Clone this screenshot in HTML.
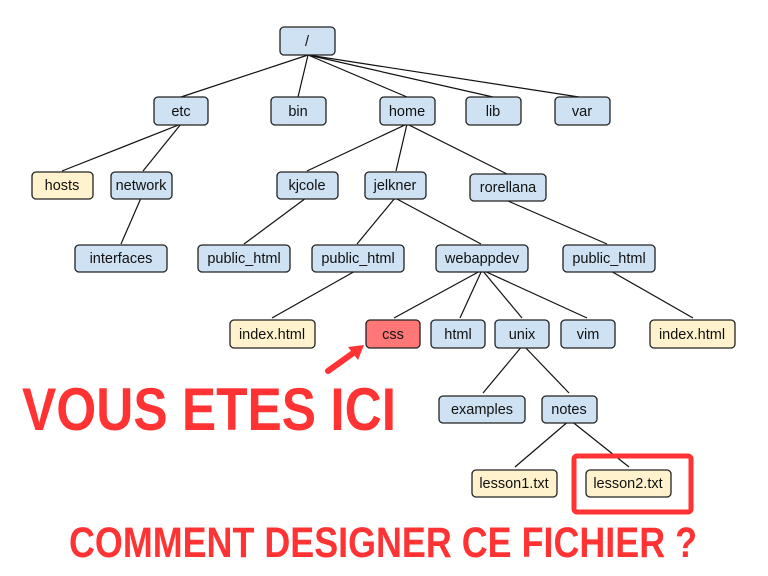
<!DOCTYPE html>
<html><head><meta charset="utf-8"><style>
html,body{margin:0;padding:0;background:#fff;width:768px;height:576px;overflow:hidden}
svg text{font-family:"Liberation Sans",Arial,sans-serif}
.n{stroke:#222;stroke-width:1.3}
.b{fill:#cfe2f3}.y{fill:#fff2cc}.r{fill:#f77}
.t{font-size:14.5px;fill:#111;text-anchor:middle}
.e{stroke:#111;stroke-width:1.2;fill:none}
</style></head><body>
<svg width="768" height="576" xmlns="http://www.w3.org/2000/svg">
<g transform="translate(-3,0)">
<g class="e">
<line x1="311" y1="55" x2="184" y2="97"/>
<line x1="311" y1="55" x2="301" y2="97"/>
<line x1="311" y1="55" x2="410" y2="97"/>
<line x1="311" y1="55" x2="496" y2="97"/>
<line x1="311" y1="55" x2="582" y2="97"/>
<line x1="184" y1="124" x2="65" y2="171"/>
<line x1="184" y1="124" x2="146" y2="171"/>
<line x1="144" y1="198" x2="124" y2="244"/>
<line x1="410" y1="124" x2="310" y2="171"/>
<line x1="410" y1="124" x2="399" y2="171"/>
<line x1="410" y1="124" x2="510" y2="174"/>
<line x1="309" y1="198" x2="247" y2="244"/>
<line x1="398" y1="198" x2="360" y2="244"/>
<line x1="398" y1="198" x2="484" y2="244"/>
<line x1="511" y1="201" x2="610" y2="244"/>
<line x1="360" y1="270" x2="275" y2="318"/>
<line x1="485" y1="270" x2="397" y2="318"/>
<line x1="485" y1="270" x2="463" y2="318"/>
<line x1="485" y1="270" x2="525" y2="318"/>
<line x1="485" y1="270" x2="590" y2="318"/>
<line x1="612" y1="270" x2="696" y2="318"/>
<line x1="526" y1="345" x2="486" y2="393"/>
<line x1="526" y1="345" x2="572" y2="393"/>
<line x1="573" y1="420" x2="518" y2="467"/>
<line x1="573" y1="420" x2="632" y2="467"/>
</g>
<g class="n">
<rect class="b" x="283" y="27" width="55" height="28" rx="4"/>
<rect class="b" x="157" y="97" width="54" height="28" rx="4"/>
<rect class="b" x="274" y="97" width="55" height="28" rx="4"/>
<rect class="b" x="383" y="97" width="55" height="28" rx="4"/>
<rect class="b" x="469" y="97" width="55" height="28" rx="4"/>
<rect class="b" x="558" y="97" width="55" height="28" rx="4"/>
<rect class="y" x="35" y="172" width="61" height="27" rx="4"/>
<rect class="b" x="114" y="172" width="61" height="27" rx="4"/>
<rect class="b" x="280" y="172" width="61" height="27" rx="4"/>
<rect class="b" x="368" y="172" width="61" height="27" rx="4"/>
<rect class="b" x="473" y="174" width="76" height="27" rx="4"/>
<rect class="b" x="78" y="245" width="92" height="27" rx="4"/>
<rect class="b" x="201" y="245" width="92" height="27" rx="4"/>
<rect class="b" x="315" y="245" width="92" height="27" rx="4"/>
<rect class="b" x="439" y="245" width="92" height="27" rx="4"/>
<rect class="b" x="566" y="245" width="92" height="27" rx="4"/>
<rect class="y" x="233" y="320" width="85" height="28" rx="4"/>
<rect class="r" x="369" y="320" width="54" height="28" rx="4"/>
<rect class="b" x="434" y="320" width="54" height="28" rx="4"/>
<rect class="b" x="498" y="320" width="54" height="28" rx="4"/>
<rect class="b" x="564" y="320" width="54" height="28" rx="4"/>
<rect class="y" x="653" y="320" width="85" height="28" rx="4"/>
<rect class="b" x="442" y="396" width="86" height="27" rx="4"/>
<rect class="b" x="545" y="396" width="55" height="27" rx="4"/>
<rect class="y" x="475" y="470" width="85" height="27" rx="4"/>
<rect class="y" x="589" y="470" width="85" height="27" rx="4"/>
</g>
<g class="t">
<text x="310" y="46">/</text>
<text x="184" y="116">etc</text>
<text x="301" y="116">bin</text>
<text x="410" y="116">home</text>
<text x="496" y="116">lib</text>
<text x="585" y="116">var</text>
<text x="65" y="190">hosts</text>
<text x="144" y="190">network</text>
<text x="310" y="190">kjcole</text>
<text x="398" y="190">jelkner</text>
<text x="511" y="192">rorellana</text>
<text x="124" y="263">interfaces</text>
<text x="247" y="263">public_html</text>
<text x="361" y="263">public_html</text>
<text x="485" y="263">webappdev</text>
<text x="612" y="263">public_html</text>
<text x="275" y="339">index.html</text>
<text x="396" y="339">css</text>
<text x="461" y="339">html</text>
<text x="525" y="339">unix</text>
<text x="591" y="339">vim</text>
<text x="695" y="339">index.html</text>
<text x="485" y="414">examples</text>
<text x="572" y="414">notes</text>
<text x="517" y="488">lesson1.txt</text>
<text x="631" y="488">lesson2.txt</text>
</g>
</g>
<rect x="574" y="456" width="117" height="56" rx="3" fill="none" stroke="#f33" stroke-width="5"/>
<line x1="328" y1="371" x2="356" y2="351" stroke="#f33" stroke-width="6" stroke-linecap="round"/>
<polygon points="364,345 348,347 358,360" fill="#f33"/>
<text x="22" y="430" font-size="60" font-weight="bold" fill="#f33" textLength="374" lengthAdjust="spacingAndGlyphs" style="font-family:'Liberation Sans Narrow','Liberation Sans',sans-serif">VOUS  ETES ICI</text>
<text x="69" y="557" font-size="43" font-weight="bold" fill="#f33" textLength="628" lengthAdjust="spacingAndGlyphs" style="font-family:'Liberation Sans Narrow','Liberation Sans',sans-serif">COMMENT DESIGNER CE FICHIER ?</text>
</svg>
</body></html>
